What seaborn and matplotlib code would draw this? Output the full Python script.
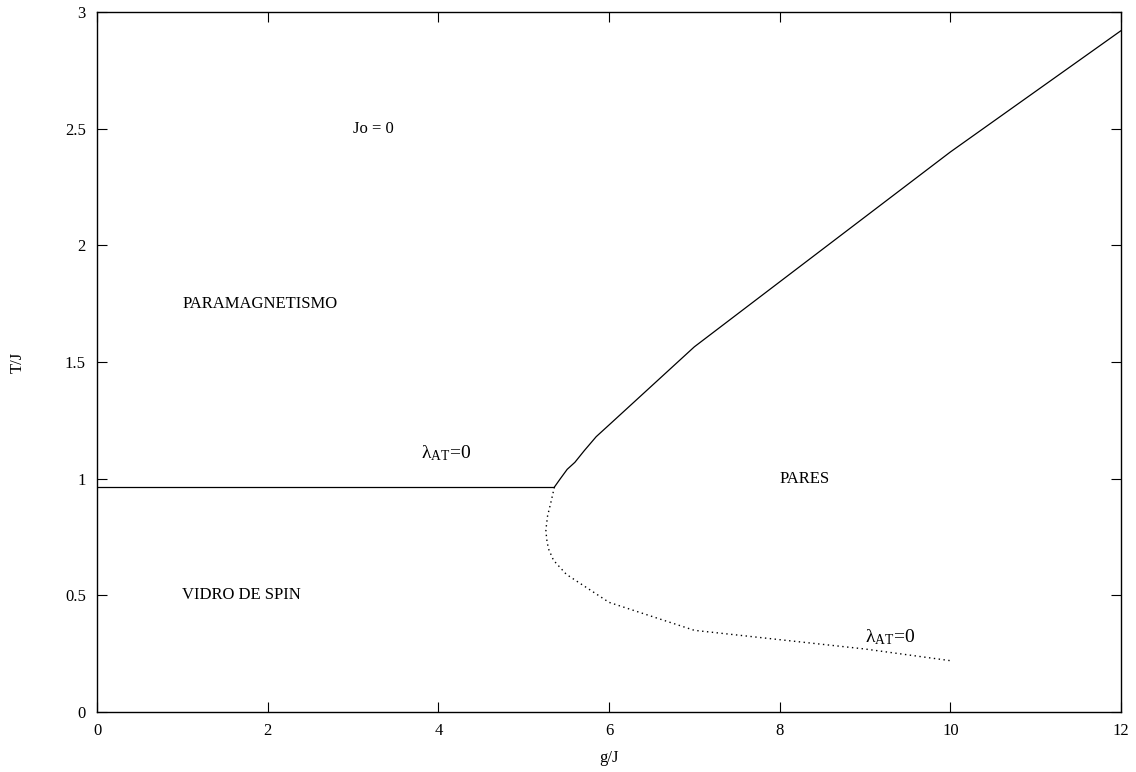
import pandas as pd
import matplotlib
matplotlib.use("Agg")
import matplotlib.pyplot as plt
import seaborn as sns

# Phase boundary data
flat_g = [0.0, 5.36]
flat_t = [0.964, 0.964]

upper_g = [5.36, 5.43, 5.51, 5.60, 5.71, 5.85, 6.00, 7.00, 10.0, 12.0]
upper_t = [0.964, 1.00, 1.04, 1.07, 1.12, 1.18, 1.23, 1.565, 2.40, 2.92]

lower_g = [5.36, 5.32, 5.28, 5.26, 5.27, 5.29, 5.35, 5.50, 6.00, 6.50, 7.00, 8.00, 9.00, 10.0]
lower_t = [0.964, 0.90, 0.84, 0.78, 0.74, 0.70, 0.65, 0.59, 0.47, 0.41, 0.35, 0.31, 0.27, 0.22]

x_ticks = [0, 2, 4, 6, 8, 10, 12]
y_ticks = [0, 0.5, 1, 1.5, 2, 2.5, 3]
y_tick_labels = ["0", "0.5", "1", "1.5", "2", "2.5", "3"]

sns.set_theme(style="ticks")
plt.rcParams['font.family'] = ['Liberation Serif', 'DejaVu Serif']
plt.rcParams['mathtext.fontset'] = 'custom'
plt.rcParams['mathtext.rm'] = 'Liberation Serif'
plt.rcParams['mathtext.it'] = 'Liberation Serif'
plt.rcParams['text.color'] = 'black'
plt.rcParams['axes.labelcolor'] = 'black'

fig = plt.figure(figsize=(11.36, 7.72), dpi=100)
ax = fig.add_axes([97 / 1136, 1 - 712 / 772, 1024 / 1136, 700 / 772])

flat = pd.DataFrame({"g": flat_g, "T": flat_t})
upper = pd.DataFrame({"g": upper_g, "T": upper_t})
lower = pd.DataFrame({"g": lower_g, "T": lower_t})

sns.lineplot(data=flat, x="g", y="T", sort=False, color="black", lw=0.9, ax=ax)
sns.lineplot(data=upper, x="g", y="T", sort=False, color="black", lw=0.9, ax=ax)
sns.lineplot(data=lower, x="g", y="T", sort=False, color="black", lw=1.0,
             linestyle=(0, (1, 2.5)), ax=ax)

ax.set_xlim(0, 12)
ax.set_ylim(0, 3)
ax.set_xticks(x_ticks)
ax.set_xticklabels([str(v) for v in x_ticks])
ax.set_yticks(y_ticks)
ax.set_yticklabels(y_tick_labels)
ax.tick_params(direction="in", length=7, width=0.8, top=True, right=True,
               labelsize=12, colors="black", pad=8)
for s in ax.spines.values():
    s.set_linewidth(1.0)
    s.set_color("black")

ax.set_xlabel("g/J", fontsize=12, labelpad=8)
ax.set_ylabel("T/J", fontsize=12, labelpad=28)

fs = 12
ax.text(3.0, 2.5, "Jo = 0", fontsize=fs, va="center", ha="left")
ax.text(1.0, 1.75, "PARAMAGNETISMO", fontsize=fs, va="center", ha="left")
ax.text(1.0, 0.5, "VIDRO DE SPIN", fontsize=fs, va="center", ha="left")
ax.text(8.0, 1.0, "PARES", fontsize=fs, va="center", ha="left")
ax.text(3.8, 1.11, r"$\lambda_{\mathrm{AT}}$=0", fontsize=fs + 2, va="center", ha="left")
ax.text(9.0, 0.32, r"$\lambda_{\mathrm{AT}}$=0", fontsize=fs + 2, va="center", ha="left")

fig.savefig("out.png", dpi=100)
